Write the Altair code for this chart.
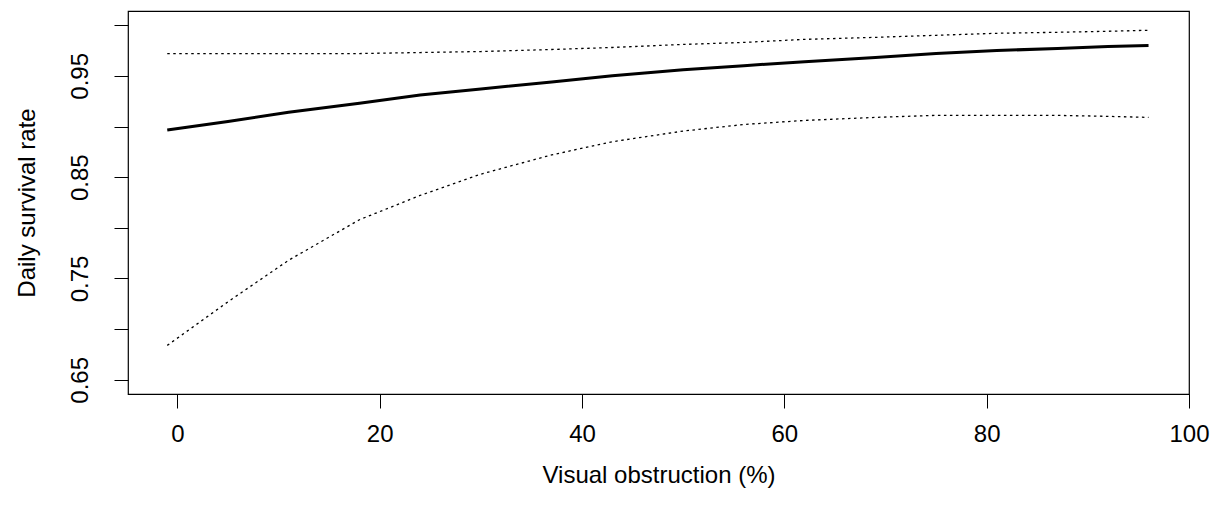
import altair as alt
import pandas as pd

# Visual obstruction (%) at which daily survival was predicted
obstruction = [-1, 5, 11, 18, 24, 30, 37, 43, 50, 56, 62, 69, 75, 81, 87, 92, 96]
# Predicted daily survival rate and its confidence limits
dsr_mean = [0.8965, 0.905, 0.914, 0.923, 0.931, 0.937, 0.944, 0.950, 0.956,
            0.960, 0.964, 0.968, 0.972, 0.975, 0.977, 0.979, 0.980]
dsr_upper = [0.972, 0.972, 0.972, 0.972, 0.973, 0.974, 0.976, 0.978, 0.981,
             0.983, 0.986, 0.988, 0.990, 0.992, 0.993, 0.994, 0.995]
dsr_lower = [0.684, 0.727, 0.768, 0.808, 0.832, 0.853, 0.872, 0.885, 0.8955,
             0.902, 0.906, 0.909, 0.911, 0.911, 0.911, 0.910, 0.909]

x_ticks = [0, 20, 40, 60, 80, 100]
y_ticks = [0.65, 0.70, 0.75, 0.80, 0.85, 0.90, 0.95, 1.00]
y_labelled = ["0.65", "0.75", "0.85", "0.95"]

df = pd.DataFrame({
    "vo": obstruction,
    "mean": dsr_mean,
    "upper": dsr_upper,
    "lower": dsr_lower,
})

FONT = "Liberation Sans"
FS = 24

x_enc = alt.X(
    "vo:Q",
    scale=alt.Scale(domain=[-4.88, 100.0], nice=False, zero=False),
    axis=alt.Axis(
        values=x_ticks, format="d", title="Visual obstruction (%)",
        domain=False, grid=False, ticks=True, tickColor="black", tickSize=14,
        tickWidth=1, labelFontSize=FS, labelColor="black", labelFont=FONT,
        labelPadding=14, labelFlush=False, labelOverlap=False,
        titleFont=FONT, titleFontSize=FS, titleFontWeight="normal",
        titleColor="black", titleY=81, titleBaseline="middle",
    ),
)

y_axis = alt.Axis(
    values=y_ticks, format=".2f", title="Daily survival rate",
    labelExpr="indexof(" + str(y_labelled) + ", datum.label) >= 0 ? datum.label : ''",
    domain=False, grid=False, ticks=True, tickColor="black", tickSize=14,
    tickWidth=1, labelFontSize=FS, labelColor="black", labelFont=FONT,
    labelAngle=270, labelAlign="center", labelBaseline="bottom",
    labelPadding=22, labelFlush=False, labelOverlap=False,
    titleFont=FONT, titleFontSize=FS, titleFontWeight="normal",
    titleColor="black", titleAngle=270, titleX=-101, titleBaseline="middle",
)
y_scale = alt.Scale(domain=[0.636, 1.014], nice=False, zero=False)

base = alt.Chart(df)

mean_line = base.mark_line(color="black", strokeWidth=3).encode(
    x=x_enc, y=alt.Y("mean:Q", scale=y_scale, axis=y_axis)
)
upper_line = base.mark_line(color="black", strokeWidth=1.3, strokeDash=[2.5, 3.5]).encode(
    x="vo:Q", y="upper:Q"
)
lower_line = base.mark_line(color="black", strokeWidth=1.3, strokeDash=[2.5, 3.5]).encode(
    x="vo:Q", y="lower:Q"
)

chart = (
    alt.layer(mean_line, upper_line, lower_line)
    .properties(
        width=1061, height=383,
        autosize=alt.AutoSizeParams(type="none"),
        padding={"left": 128, "top": 11, "right": 28, "bottom": 123},
        background="white",
    )
    .configure_view(stroke="black", strokeWidth=1.2)
)

chart.save("out.html", embed_options={"renderer": "svg", "actions": False})
